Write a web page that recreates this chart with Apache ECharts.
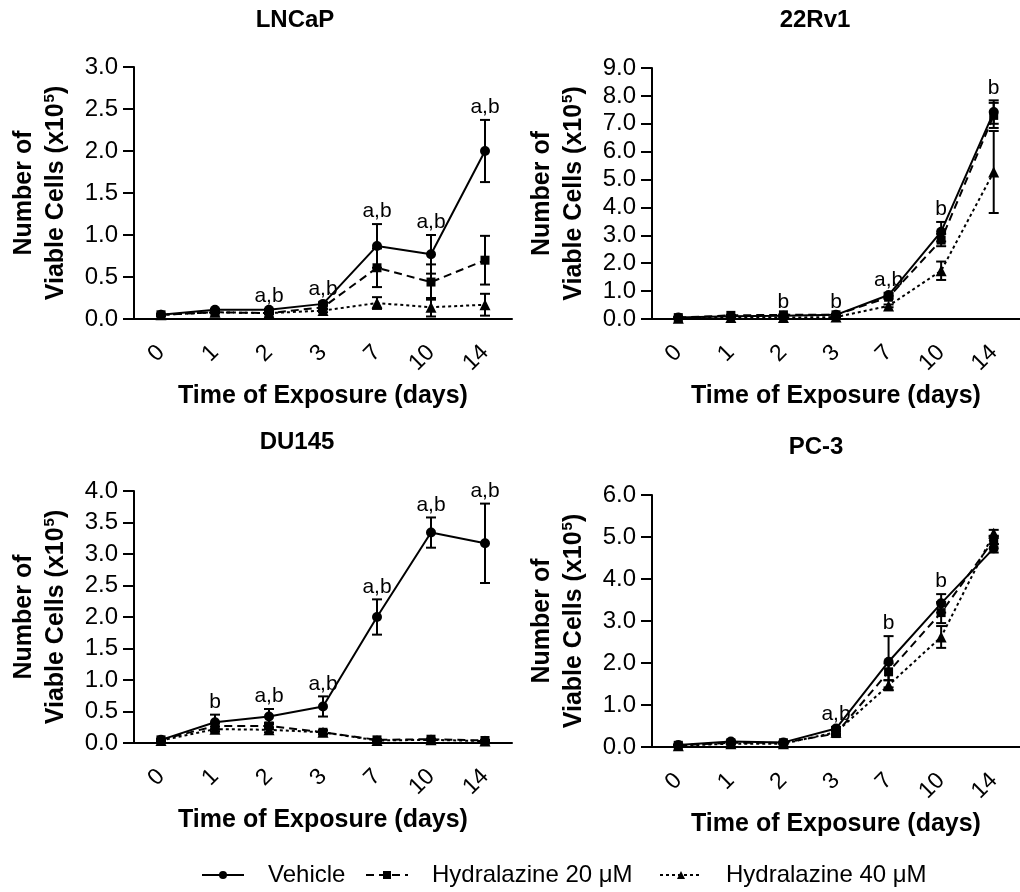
<!DOCTYPE html>
<html>
<head>
<meta charset="utf-8">
<script src="https://cdn.jsdelivr.net/npm/echarts@6/dist/echarts.min.js"></script>
<style>
  html, body { margin: 0; padding: 0; background: #fff; }
  #chart { width: 1020px; height: 892px; }
</style>
</head>
<body>
<div id="chart"></div>
<script>
// Time points (days of exposure)
const days = ['0', '1', '2', '3', '7', '10', '14'];
const seriesNames = ['Vehicle', 'Hydralazine 20 μM', 'Hydralazine 40 μM'];

// LNCaP: mean and SEM, x10^5 viable cells
const lncapVehicle    = [0.05, 0.11, 0.11, 0.18, 0.87, 0.77, 2.00];
const lncapVehicleErr = [0.01, 0.01, 0.01, 0.02, 0.26, 0.23, 0.37];
const lncapH20        = [0.05, 0.08, 0.07, 0.14, 0.61, 0.44, 0.70];
const lncapH20Err     = [0.01, 0.01, 0.01, 0.02, 0.23, 0.21, 0.29];
const lncapH40        = [0.05, 0.08, 0.07, 0.10, 0.19, 0.14, 0.17];
const lncapH40Err     = [0.01, 0.01, 0.01, 0.02, 0.07, 0.11, 0.13];
const lncapMarks      = ['', '', 'a,b', 'a,b', 'a,b', 'a,b', 'a,b'];

// 22Rv1
const rv1Vehicle    = [0.05, 0.10, 0.12, 0.15, 0.86, 3.13, 7.42];
const rv1VehicleErr = [0.01, 0.01, 0.01, 0.02, 0.08, 0.35, 0.42];
const rv1H20        = [0.05, 0.13, 0.15, 0.15, 0.78, 2.83, 7.30];
const rv1H20Err     = [0.01, 0.01, 0.01, 0.02, 0.06, 0.22, 0.45];
const rv1H40        = [0.03, 0.05, 0.05, 0.07, 0.47, 1.73, 5.27];
const rv1H40Err     = [0.01, 0.01, 0.01, 0.01, 0.05, 0.33, 1.47];
const rv1Marks      = ['', '', 'b', 'b', 'a,b', 'b', 'b'];

// DU145
const du145Vehicle    = [0.05, 0.33, 0.42, 0.58, 2.00, 3.34, 3.17];
const du145VehicleErr = [0.01, 0.12, 0.12, 0.16, 0.28, 0.24, 0.63];
const du145H20        = [0.05, 0.27, 0.27, 0.17, 0.05, 0.06, 0.04];
const du145H20Err     = [0.01, 0.05, 0.05, 0.03, 0.01, 0.01, 0.01];
const du145H40        = [0.04, 0.22, 0.21, 0.17, 0.04, 0.05, 0.03];
const du145H40Err     = [0.01, 0.04, 0.04, 0.03, 0.01, 0.01, 0.01];
const du145Marks      = ['', 'b', 'a,b', 'a,b', 'a,b', 'a,b', 'a,b'];

// PC-3
const pc3Vehicle    = [0.05, 0.13, 0.11, 0.44, 2.03, 3.42, 4.73];
const pc3VehicleErr = [0.01, 0.02, 0.02, 0.04, 0.61, 0.22, 0.10];
const pc3H20        = [0.04, 0.10, 0.10, 0.32, 1.79, 3.20, 4.93];
const pc3H20Err     = [0.01, 0.02, 0.02, 0.04, 0.20, 0.25, 0.10];
const pc3H40        = [0.03, 0.08, 0.08, 0.35, 1.47, 2.62, 5.09];
const pc3H40Err     = [0.01, 0.02, 0.02, 0.04, 0.12, 0.26, 0.08];
const pc3Marks      = ['', '', '', 'a,b', 'b', 'b', ''];

// Y-axis ranges per cell line
const yMax      = [3.0, 9.0, 4.0, 6.0];
const yInterval = [0.5, 1.0, 0.5, 1.0];

const panels = [
  { title: 'LNCaP', means: [lncapVehicle, lncapH20, lncapH40], errs: [lncapVehicleErr, lncapH20Err, lncapH40Err], marks: lncapMarks },
  { title: '22Rv1', means: [rv1Vehicle, rv1H20, rv1H40], errs: [rv1VehicleErr, rv1H20Err, rv1H40Err], marks: rv1Marks },
  { title: 'DU145', means: [du145Vehicle, du145H20, du145H40], errs: [du145VehicleErr, du145H20Err, du145H40Err], marks: du145Marks },
  { title: 'PC-3', means: [pc3Vehicle, pc3H20, pc3H40], errs: [pc3VehicleErr, pc3H20Err, pc3H40Err], marks: pc3Marks }
];

// Layout of the four plot areas
const gridLayout = [
  { left: 134, top: 67,  width: 378, height: 252 },
  { left: 652, top: 68,  width: 378, height: 251 },
  { left: 134, top: 491, width: 378, height: 252 },
  { left: 652, top: 495, width: 378, height: 252 }
];
const titlePos = [
  { left: 295, top: 8 },
  { left: 815, top: 8 },
  { left: 297, top: 430 },
  { left: 816, top: 435 }
];

const FONT = '"Liberation Sans", Arial, Helvetica, sans-serif';
const lineStyles = [
  { type: 'solid', symbol: 'circle', symbolSize: 10 },
  { type: [8, 5], symbol: 'rect', symbolSize: 9 },
  { type: [3, 3], symbol: 'triangle', symbolSize: 11 }
];

function errorBarItem(params, api) {
  const idx = api.value(0), m = api.value(1), e = api.value(2);
  const top = api.coord([idx, m + e]);
  const bot = api.coord([idx, m - e]);
  const half = 5;
  const st = { stroke: '#000', lineWidth: 2 };
  return {
    type: 'group',
    children: [
      { type: 'line', shape: { x1: top[0], y1: top[1], x2: bot[0], y2: bot[1] }, style: st },
      { type: 'line', shape: { x1: top[0] - half, y1: top[1], x2: top[0] + half, y2: top[1] }, style: st },
      { type: 'line', shape: { x1: bot[0] - half, y1: bot[1], x2: bot[0] + half, y2: bot[1] }, style: st }
    ]
  };
}

const option = {
  backgroundColor: '#fff',
  animation: false,
  title: [],
  grid: [],
  xAxis: [],
  yAxis: [],
  series: [],
  legend: []
};

panels.forEach((p, k) => {
  option.title.push({
    text: p.title,
    left: titlePos[k].left,
    top: titlePos[k].top,
    textAlign: 'center',
    padding: 0,
    textStyle: { fontFamily: FONT, fontSize: 24, fontWeight: 'bold', color: '#000' }
  });
  option.grid.push(Object.assign({ containLabel: false }, gridLayout[k]));
  option.xAxis.push({
    type: 'category',
    gridIndex: k,
    data: days,
    boundaryGap: true,
    name: 'Time of Exposure (days)',
    nameLocation: 'middle',
    nameGap: 65,
    nameTextStyle: { fontFamily: FONT, fontSize: 25, fontWeight: 'bold', color: '#000' },
    axisLine: { lineStyle: { color: '#000', width: 2 } },
    axisTick: { alignWithLabel: true, length: 11, lineStyle: { color: '#000', width: 2 } },
    axisLabel: { rotate: 45, margin: 30, fontFamily: FONT, fontSize: 23, color: '#000', interval: 0 },
    splitLine: { show: false }
  });
  option.yAxis.push({
    type: 'value',
    gridIndex: k,
    min: 0,
    max: yMax[k],
    interval: yInterval[k],
    name: 'Number of\nViable Cells (x10{sup|5})',
    nameLocation: 'middle',
    nameGap: 62,
    nameTextStyle: {
      fontFamily: FONT, fontSize: 25, fontWeight: 'bold', color: '#000', lineHeight: 32,
      rich: { sup: { fontFamily: FONT, fontSize: 15, fontWeight: 'bold', color: '#000', verticalAlign: 'top', padding: [2, 0, 0, 1] } }
    },
    axisLine: { show: true, lineStyle: { color: '#000', width: 2 } },
    axisTick: { show: true, length: 11, lineStyle: { color: '#000', width: 2 } },
    axisLabel: { margin: 16, fontFamily: FONT, fontSize: 24, color: '#000', formatter: v => v.toFixed(1) },
    splitLine: { show: false }
  });

  // error bars
  p.means.forEach((vals, s) => {
    option.series.push({
      type: 'custom',
      xAxisIndex: k,
      yAxisIndex: k,
      renderItem: errorBarItem,
      data: vals.map((v, i) => [i, v, p.errs[s][i]]),
      encode: { x: 0, y: 1 },
      z: 1,
      silent: true
    });
  });

  // mean lines
  p.means.forEach((vals, s) => {
    option.series.push({
      type: 'line',
      name: seriesNames[s],
      xAxisIndex: k,
      yAxisIndex: k,
      data: vals,
      symbol: lineStyles[s].symbol,
      symbolSize: lineStyles[s].symbolSize,
      showSymbol: true,
      lineStyle: { color: '#000', width: 2, type: lineStyles[s].type },
      itemStyle: { color: '#000' },
      z: 2
    });
  });

  // significance letters above the highest error bar of each day
  const tops = days.map((d, i) => Math.max(...p.means.map((vals, s) => vals[i] + p.errs[s][i])));
  const marks = p.marks;
  option.series.push({
    type: 'custom',
    xAxisIndex: k,
    yAxisIndex: k,
    data: tops.map((t, i) => [i, t]),
    encode: { x: 0, y: 1 },
    z: 3,
    silent: true,
    renderItem: (params, api) => {
      const txt = marks[params.dataIndex];
      if (!txt) return null;
      const pt = api.coord([api.value(0), api.value(1)]);
      return {
        type: 'text',
        x: pt[0],
        y: pt[1] - 2,
        style: { text: txt, fill: '#000', font: '21px ' + FONT, align: 'center', verticalAlign: 'bottom' }
      };
    }
  });
});

// legend row across the bottom
const legendLeft = [201, 365, 659];
seriesNames.forEach((n, i) => {
  option.legend.push({
    data: [n],
    left: legendLeft[i],
    top: 863,
    padding: 0,
    orient: 'horizontal',
    itemWidth: 42,
    itemHeight: 10,
    selectedMode: false,
    textStyle: { fontFamily: FONT, fontSize: 24, color: '#000', padding: [0, 0, 0, 19] }
  });
});

const chart = echarts.init(document.getElementById('chart'), null, { renderer: 'canvas' });
chart.setOption(option);
</script>
</body>
</html>
